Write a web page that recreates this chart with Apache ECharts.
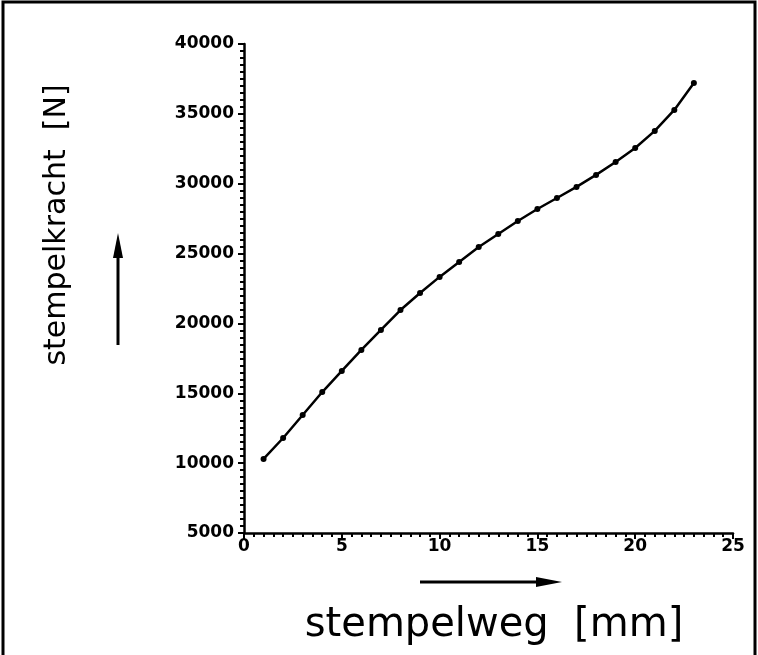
<!doctype html>
<html>
  <head>
    <meta charset="utf-8">
    <title>stempelkracht</title>
    <script src="https://cdn.jsdelivr.net/npm/echarts@6/dist/echarts.min.js"></script>
    <style>
      html, body { margin: 0; padding: 0; background: #fff; }
      #main { width: 758px; height: 655px; }
    </style>
  </head>
  <body>
    <div id="main"></div>
    <script type="text/javascript">
      // stempelweg [mm]
      var weg = [1, 2, 3, 4, 5, 6, 7, 8, 9, 10, 11, 12, 13, 14, 15, 16, 17, 18, 19, 20, 21, 22, 23];
      // stempelkracht [N]
      var kracht = [10300, 11800, 13450, 15090, 16600, 18100, 19530, 20960, 22180, 23330, 24400,
                    25470, 26400, 27330, 28190, 28980, 29770, 30630, 31560, 32560, 33780, 35280, 37210];
      var yTicks = [5000, 10000, 15000, 20000, 25000, 30000, 35000, 40000];
      var xTicks = [0, 5, 10, 15, 20, 25];

      var points = weg.map(function (w, i) { return [w, kracht[i]]; });

      var myChart = echarts.init(document.getElementById('main'));
      var option = {
        animation: false,
        backgroundColor: '#fff',
        grid: { left: 244, top: 44, right: 25, bottom: 122 },
        xAxis: {
          type: 'value',
          min: xTicks[0],
          max: xTicks[xTicks.length - 1],
          interval: 5,
          splitLine: { show: false },
          axisLine: { lineStyle: { color: '#000', width: 2.5 } },
          axisTick: { length: 6, lineStyle: { color: '#000', width: 2 } },
          minorTick: { show: true, splitNumber: 10, length: 4, lineStyle: { color: '#000', width: 2 } },
          axisLabel: {
            margin: 5, color: '#000', fontFamily: 'DejaVu Sans', fontWeight: 'bold', fontSize: 17,
            formatter: function (v) { return String(v); }
          }
        },
        yAxis: {
          type: 'value',
          min: yTicks[0],
          max: yTicks[yTicks.length - 1],
          interval: 5000,
          splitLine: { show: false },
          axisLine: { lineStyle: { color: '#000', width: 2.5 } },
          axisTick: { length: 6, lineStyle: { color: '#000', width: 2 } },
          minorTick: { show: true, splitNumber: 10, length: 4, lineStyle: { color: '#000', width: 2 } },
          axisLabel: {
            margin: 10, color: '#000', fontFamily: 'DejaVu Sans', fontWeight: 'bold', fontSize: 17,
            formatter: function (v) { return String(v); }
          }
        },
        series: [
          {
            type: 'line',
            data: points,
            symbol: 'circle',
            symbolSize: 6,
            itemStyle: { color: '#000' },
            lineStyle: { color: '#000', width: 2.5 }
          }
        ],
        graphic: [
          // rahmen
          { type: 'rect', shape: { x: 3, y: 2, width: 752, height: 660 }, style: { fill: null, stroke: '#000', lineWidth: 3 } },
          // achsentitel
          { type: 'text', x: 57, y: 225, rotation: Math.PI / 2, style: { text: 'stempelkracht  [N]', font: '30px "DejaVu Sans"', fill: '#000', align: 'center', verticalAlign: 'middle' } },
          { type: 'text', x: 494, y: 626, style: { text: 'stempelweg  [mm]', font: '40px "DejaVu Sans"', fill: '#000', align: 'center', verticalAlign: 'middle' } },
          // pfeile
          { type: 'line', shape: { x1: 118, y1: 345, x2: 118, y2: 252 }, style: { stroke: '#000', lineWidth: 3 } },
          { type: 'polygon', shape: { points: [[118, 233], [113, 258], [123, 258]] }, style: { fill: '#000' } },
          { type: 'line', shape: { x1: 420, y1: 582, x2: 540, y2: 582 }, style: { stroke: '#000', lineWidth: 3 } },
          { type: 'polygon', shape: { points: [[562, 582], [536, 577], [536, 587]] }, style: { fill: '#000' } }
        ]
      };
      myChart.setOption(option);
    </script>
  </body>
</html>
